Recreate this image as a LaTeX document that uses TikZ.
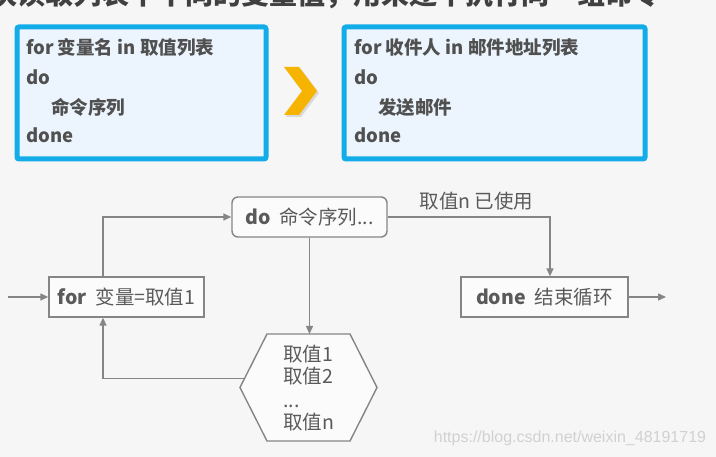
\documentclass[tikz,border=0pt]{standalone}
\usepackage{fontspec}
\setmainfont{Noto Sans CJK SC}
\newfontfamily\wmfont{Liberation Sans}
\usetikzlibrary{arrows.meta}
\definecolor{bluebd}{HTML}{12ACE8}
\definecolor{bluefill}{HTML}{ECF5FD}
\definecolor{txt}{HTML}{505050}
\definecolor{flowtxt}{HTML}{5A5A5A}
\definecolor{flow}{HTML}{858585}
\definecolor{chev}{HTML}{F6B400}
\definecolor{bg}{HTML}{F6F6F6}
\tikzset{
  codebox/.style={draw=bluebd, line width=5pt, fill=bluefill, rounded corners=2pt,
    anchor=north west, inner sep=0pt},
  codeline/.style={anchor=base west, inner sep=0pt, text=txt,
    font=\fontsize{18.5}{18.5}\selectfont\bfseries},
  flowbox/.style={draw=flow, line width=1.4pt, fill=white!60!bg, minimum height=40pt,
    inner sep=0pt, text=flowtxt, font=\fontsize{19.5}{19.5}\selectfont},
  flowtext/.style={inner sep=0pt, text=flowtxt, font=\fontsize{19.5}{19.5}\selectfont},
  arr/.style={draw=flow, line width=1.4pt, -{Triangle[length=8pt,width=7pt]}},
  plain/.style={draw=flow, line width=1.4pt},
}
\begin{document}
\begin{tikzpicture}[x=1pt,y=-1pt]
\useasboundingbox (0,0) rectangle (716,457);
\fill[bg] (0,0) rectangle (716,457);

% clipped title at top edge
\begin{scope}
\clip (0,0) rectangle (716,11);
\node[anchor=base east, inner sep=0pt, text=black!75,
  font=\fontsize{28}{28}\selectfont\bfseries] (title) at (662,5)
  {依次读取列表中不同的变量值，用来逐个执行同一组命令};
\end{scope}

% top code boxes
\node[codebox, minimum width=249pt, minimum height=132pt] (lbox) at (14.5,24.5) {};
\node[codebox, minimum width=301pt, minimum height=132pt] (rbox) at (341.5,24.5) {};

\node[codeline] (l1) at (26,55) {for 变量名 in 取值列表};
\node[codeline] (l2) at (26,85) {do};
\node[codeline] (l3) at (51,115) {命令序列};
\node[codeline] (l4) at (26,143) {done};

\node[codeline] (r1) at (354,55) {for 收件人 in 邮件地址列表};
\node[codeline] (r2) at (354,85) {do};
\node[codeline] (r3) at (378,115) {发送邮件};
\node[codeline] (r4) at (354,143) {done};

% chevron
\fill[black!15] (286,69) -- (301,69) -- (319,93) -- (301,117) -- (286,117) -- (304,93) -- cycle;
\fill[chev] (284,67) -- (299,67) -- (317,91) -- (299,115) -- (284,115) -- (302,91) -- cycle;

% flow chart
\node[flowbox, minimum width=155pt] (forbox) at (126.5,297)
  {\textbf{for}\hspace{9pt}变量=取值1};
\node[flowbox, minimum width=155pt, rounded corners=6pt] (dobox) at (309.5,217)
  {\textbf{do}\hspace{9pt}命令序列...};
\node[flowbox, minimum width=167pt] (donebox) at (544.5,297)
  {\textbf{done}\hspace{9pt}结束循环};

% hexagon
\fill[white!60!bg] (267,334) -- (350,334) -- (377,387.5) -- (350,441) -- (267,441) -- (240,387.5) -- cycle;
\draw[plain, line join=miter] (267,334) -- (350,334) -- (377,387.5) -- (350,441) -- (267,441) -- (240,387.5) -- cycle;
\coordinate (hexT) at (309.5,334);
\coordinate (hexL) at (244.5,378.5);
\node[flowtext, anchor=base west] (h1) at (283,362) {取值1};
\node[flowtext, anchor=base west] (h2) at (283,384) {取值2};
\node[flowtext, anchor=base west] (h3) at (283,408) {...};
\node[flowtext, anchor=base west] (h4) at (283,430) {取值n};

\coordinate (start) at (8,297);
\coordinate (finish) at (666,297);

\draw[arr] (start) -- (forbox.west);
\draw[arr] ([xshift=-23.5pt]forbox.north) |- (dobox.west);
\draw[arr] (dobox.south) -- (hexT);
\draw[arr] (hexL) -| ([xshift=-23.5pt]forbox.south);
\draw[arr] (dobox.east) -| ([xshift=5.5pt]donebox.north);
\draw[arr] (donebox.east) -- (finish);

\node[flowtext, anchor=center] (used) at (476.5,201) {取值n 已使用};

% watermark
\node[inner sep=0pt, text=black!18, font=\wmfont\fontsize{16}{16}\selectfont] (wm) at (570,438)
  {https://blog.csdn.net/weixin\_48191719};
\end{tikzpicture}
\end{document}
